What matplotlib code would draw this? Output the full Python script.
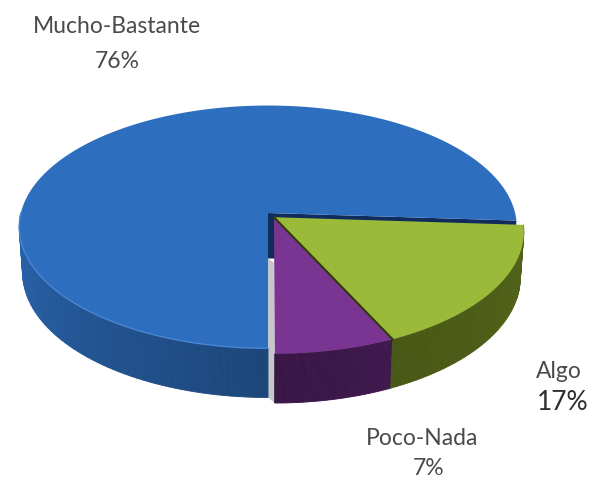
import numpy as np
import matplotlib.pyplot as plt
from matplotlib.colors import to_rgb
from matplotlib.patches import Polygon

# data, clockwise from just below the right-hand side
categories = ["Algo", "Poco-Nada", "Mucho-Bastante"]
values = [17, 7, 76]
pct_text = ["17%", "7%", "76%"]

top_colors = ["#9bba3a", "#7a3491", "#2e6ebf"]
wall_colors = ["#4d5d17", "#3b1749", "#2a67b3"]

# simple perspective camera (unit-radius pie, top at z=0)
elev = np.radians(29.0)
dist = 7.62
scale = 1883.0
thick = 0.213
cx, cy = 268.0, 213.0
start = -3.6
pull = [(0.024, -0.035), (0.024, -0.035), (0.0, 0.0)]


def proj(x, y, z):
    s, c = np.sin(elev), np.cos(elev)
    zc = y * c - z * s + dist
    px = cx + scale * x / zc
    py = cy - scale * (y * s + z * c) / zc
    return np.column_stack([np.atleast_1d(px), np.atleast_1d(py)])


def rim(t, off=(0, 0), z=0.0):
    t = np.radians(np.atleast_1d(t))
    return proj(np.cos(t) + off[0], np.sin(t) + off[1], np.full(t.shape, z))


def shade(color, f):
    return np.clip(np.array(to_rgb(color)) * f, 0, 1)


fig = plt.figure(figsize=(5.96, 4.78), dpi=100)
ax = fig.add_axes([0, 0, 1, 1])
ax.set_xlim(0, 596)
ax.set_ylim(478, 0)
ax.axis("off")

spans = []
a = start
for v in values:
    b = a - 360 * v / sum(values)
    spans.append((a, b))
    a = b

# background seen through the gap left by the pulled-out slices
po = pull[1]
gap = np.vstack([proj(0, 0, -thick), rim(-90, z=-thick),
                 rim(-90, po, -thick), proj(po[0], po[1], -thick)])
ax.add_patch(Polygon(gap, closed=True, fc="#c6c7cb", ec="none", zorder=1))

# blue slice: radial wall at its 0-degree edge, outer wall, top face
b0, b1 = spans[2]
edge = np.vstack([proj(0, 0, 0), rim(b1), rim(b1, z=-thick), proj(0, 0, -thick)])
ax.add_patch(Polygon(edge, closed=True, fc="#0f2c5c", ec="none", zorder=2))
ts = np.linspace(-180, -90, 60)
for k in range(len(ts) - 1):
    seg = np.vstack([rim(ts[k:k + 2]), rim(ts[k:k + 2][::-1], z=-thick)])
    f = 0.98 - 0.30 * (ts[k] + 180) / 90
    ax.add_patch(Polygon(seg, closed=True, fc=shade(wall_colors[2], f),
                         ec=shade(wall_colors[2], f), lw=0.6, zorder=3))
t_top = np.linspace(b0, b1, 300)
ax.add_patch(Polygon(np.vstack([proj(0, 0, 0), rim(t_top)]), closed=True,
                     fc=top_colors[2], ec="none", zorder=4))
ax.plot(*rim(np.linspace(-180, -90, 80)).T, color="#4a85d1", lw=1.0, zorder=4)

# purple and green slices
for i in (1, 0):
    a0, a1 = spans[i]
    off = pull[i]
    lo, hi = a1, min(a0, 0)
    ts = np.linspace(lo, hi, 40)
    for k in range(len(ts) - 1):
        seg = np.vstack([rim(ts[k:k + 2], off), rim(ts[k:k + 2][::-1], off, -thick)])
        f = 0.95 + 0.12 * (ts[k] - lo) / (hi - lo)
        ax.add_patch(Polygon(seg, closed=True, fc=shade(wall_colors[i], f),
                             ec=shade(wall_colors[i], f), lw=0.6, zorder=5))
    t_top = np.linspace(a0, a1, 120)
    ax.add_patch(Polygon(np.vstack([proj(off[0], off[1], 0), rim(t_top, off)]),
                         closed=True, fc=top_colors[i], ec="none", zorder=6))

# dark seam between green and purple
off = pull[0]
seam = np.vstack([proj(off[0], off[1], 0), rim(spans[0][1], off)])
ax.plot(*seam.T, color="#2f3a0c", lw=1.5, zorder=7)

# labels
font = "Lato"
txt = dict(ha="center", va="baseline", family=font, color="#4a4a4a")
ax.text(117, 33, categories[2], fontsize=16.5, **txt)
ax.text(117, 68, pct_text[2], fontsize=16.5, **txt)
ax.text(559, 378, categories[0], fontsize=16.5, **txt)
ax.text(563, 410, pct_text[0], fontsize=19, ha="center", va="baseline",
        family=font, color="#2e2e2e")
ax.text(422, 445, categories[1], fontsize=16.5, **txt)
ax.text(429, 475, pct_text[1], fontsize=16.5, **txt)

fig.savefig("out.png", dpi=100)
